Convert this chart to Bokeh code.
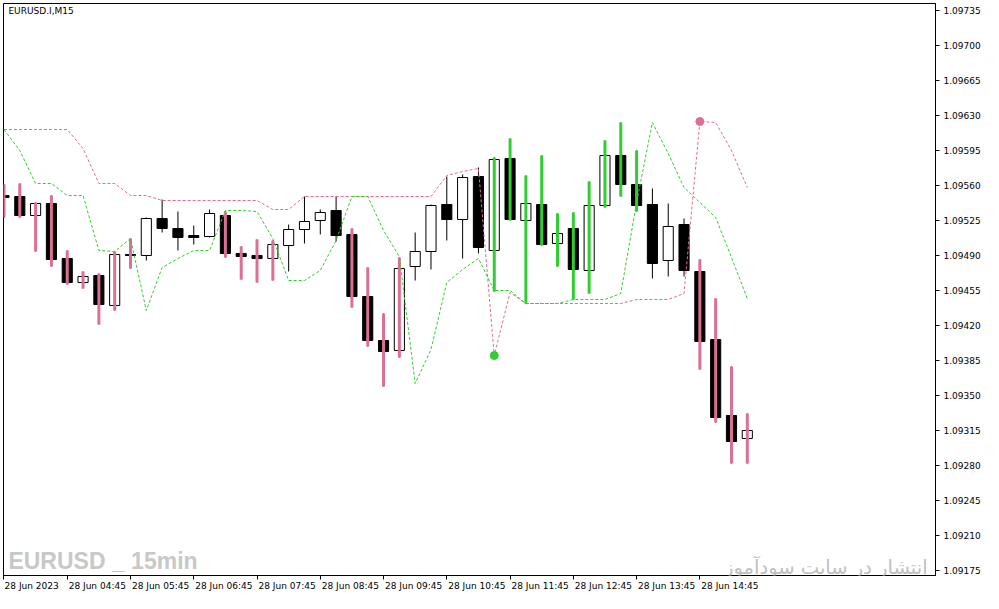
from bokeh.embed import file_html
from bokeh.models import ColumnDataSource, FixedTicker, Label, LinearAxis, PrintfTickFormatter, Range1d
from bokeh.plotting import figure
from bokeh.resources import INLINE

SYMBOL = "EURUSD.I,M15"
WATERMARK_EN = "EURUSD _ 15min"
WATERMARK_FA = "انتشار در سایت سودآموز"

# 15 minute bars, 28 Jun 2023 03:45 .. 15:30
opens = [1.09550, 1.09549, 1.09530, 1.09542, 1.09487, 1.09463, 1.09470, 1.09440,
         1.09491, 1.09490, 1.09527, 1.09517, 1.09510, 1.09509, 1.09530, 1.09492,
         1.09490, 1.09487, 1.09500, 1.09516, 1.09525, 1.09535, 1.09511, 1.09449,
         1.09405, 1.09395, 1.09479, 1.09494, 1.09541, 1.09526, 1.09569, 1.09495,
         1.09587, 1.09525, 1.09541, 1.09502, 1.09517, 1.09475, 1.09540, 1.09590,
         1.09561, 1.09541, 1.09485, 1.09521, 1.09474, 1.09406, 1.09330, 1.09307]
highs = [1.09561, 1.09562, 1.09543, 1.09550, 1.09495, 1.09474, 1.09472, 1.09494,
         1.09507, 1.09528, 1.09546, 1.09534, 1.09520, 1.09536, 1.09534, 1.09499,
         1.09506, 1.09505, 1.09521, 1.09549, 1.09536, 1.09549, 1.09517, 1.09478,
         1.09432, 1.09488, 1.09513, 1.09541, 1.09569, 1.09571, 1.09578, 1.09588,
         1.09607, 1.09570, 1.09590, 1.09532, 1.09533, 1.09564, 1.09605, 1.09623,
         1.09595, 1.09557, 1.09542, 1.09527, 1.09486, 1.09447, 1.09379, 1.09332]
lows = [1.09528, 1.09528, 1.09494, 1.09479, 1.09461, 1.09457, 1.09421, 1.09435,
        1.09477, 1.09485, 1.09513, 1.09495, 1.09501, 1.09508, 1.09488, 1.09466,
        1.09463, 1.09465, 1.09474, 1.09502, 1.09511, 1.09504, 1.09438, 1.09399,
        1.09359, 1.09388, 1.09465, 1.09476, 1.09505, 1.09487, 1.09492, 1.09454,
        1.09525, 1.09442, 1.09500, 1.09479, 1.09446, 1.09452, 1.09538, 1.09549,
        1.09534, 1.09467, 1.09469, 1.09469, 1.09376, 1.09323, 1.09282, 1.09282]
closes = [1.09548, 1.09530, 1.09542, 1.09486, 1.09463, 1.09469, 1.09441, 1.09491,
          1.09490, 1.09527, 1.09517, 1.09508, 1.09508, 1.09532, 1.09492, 1.09489,
          1.09487, 1.09501, 1.09516, 1.09524, 1.09533, 1.09510, 1.09449, 1.09405,
          1.09394, 1.09477, 1.09494, 1.09540, 1.09526, 1.09568, 1.09498, 1.09586,
          1.09526, 1.09542, 1.09501, 1.09512, 1.09476, 1.09540, 1.09590, 1.09561,
          1.09540, 1.09482, 1.09519, 1.09475, 1.09404, 1.09328, 1.09304, 1.09315]

# indicator: bar painting ("dn", "up" or "")
signal = (["dn"] * 9 + [""] * 5 + ["dn"] * 4 + [""] * 4 + ["dn"] * 4 + [""] * 5
          + ["up"] * 10 + [""] * 3 + ["dn"] * 4)

upper_line = ([1.09616] * 5 + [1.09597, 1.09562, 1.09562, 1.09550, 1.09550]
              + [1.09545] * 7 + [1.09536, 1.09536] + [1.09549] * 9
              + [1.09570, 1.09574, 1.09577, 1.09390, 1.09453] + [1.09442] * 7
              + [1.09446] * 3 + [1.09452, 1.09624, 1.09623, 1.09595, 1.09558])
lower_line = [1.09616, 1.09595, 1.09562, 1.09562, 1.09550, 1.09550, 1.09495, 1.09494,
              1.09507, 1.09435, 1.09478, 1.09487, 1.09495, 1.09495, 1.09535, 1.09535,
              1.09534, 1.09507, 1.09465, 1.09465, 1.09475, 1.09505, 1.09549, 1.09549,
              1.09515, 1.09489, 1.09362, 1.09396, 1.09463, 1.09476, 1.09487, 1.09455,
              1.09455, 1.09442, 1.09442, 1.09442, 1.09446, 1.09446, 1.09446, 1.09452,
              1.09543, 1.09623, 1.09592, 1.09558, 1.09543, 1.09528, 1.09488, 1.09447]

up_dot_bar, up_dot_price = 31, 1.09390
dn_dot_bar, dn_dot_price = 44, 1.09624

time_labels = ["28 Jun 2023", "28 Jun 04:45", "28 Jun 05:45", "28 Jun 06:45",
               "28 Jun 07:45", "28 Jun 08:45", "28 Jun 09:45", "28 Jun 10:45",
               "28 Jun 11:45", "28 Jun 12:45", "28 Jun 13:45", "28 Jun 14:45"]
price_ticks = [1.09175 + 0.00035 * k for k in range(17)]

PINK = "#DB7093"
GREEN = "#32CD32"
FONT = "DejaVu Sans"

n = len(opens)
xs = list(range(n))
bull = [c >= o for o, c in zip(opens, closes)]
candles = ColumnDataSource(dict(
    x=xs,
    high=highs,
    low=lows,
    top=[max(o, c) for o, c in zip(opens, closes)],
    bottom=[min(o, c) for o, c in zip(opens, closes)],
    fill=["white" if b else "black" for b in bull],
))
painted = [i for i in xs if signal[i]]
paint = ColumnDataSource(dict(
    x=painted,
    high=[highs[i] for i in painted],
    low=[lows[i] for i in painted],
    color=[GREEN if signal[i] == "up" else PINK for i in painted],
))

p = figure(
    width=983, height=593,
    x_range=Range1d(-0.03, 58.9), y_range=Range1d(1.09170, 1.09742),
    x_axis_location=None, y_axis_location=None,
    tools="", toolbar_location=None, output_backend="svg",
    min_border_left=3, min_border_top=3, min_border_right=0, min_border_bottom=0,
)
p.grid.visible = False
p.outline_line_color = "black"
p.outline_line_width = 1
p.background_fill_color = "white"
p.border_fill_color = "white"

p.segment(x0="x", y0="high", x1="x", y1="low", source=candles, line_color="black", line_width=1)
p.vbar(x="x", top="top", bottom="bottom", width=0.64, source=candles,
       fill_color="fill", line_color="black", line_width=1)
p.segment(x0="x", y0="high", x1="x", y1="low", source=paint, line_color="color", line_width=3)

p.line(xs, upper_line, line_color=PINK, line_width=1, line_dash="3 2")
p.line(xs, lower_line, line_color=GREEN, line_width=1, line_dash="3 2")
p.scatter([up_dot_bar], [up_dot_price], size=8, fill_color=GREEN, line_color=GREEN)
p.scatter([dn_dot_bar], [dn_dot_price], size=8, fill_color=PINK, line_color=PINK)

# price axis on the right
yaxis = LinearAxis(ticker=FixedTicker(ticks=price_ticks), formatter=PrintfTickFormatter(format="%.5f"))
yaxis.axis_line_color = "black"
yaxis.major_tick_out = 4
yaxis.major_tick_in = 0
yaxis.minor_tick_out = 0
yaxis.minor_tick_in = 0
yaxis.major_label_standoff = 4
yaxis.axis_label_standoff = 0
yaxis.major_label_text_font = FONT
yaxis.major_label_text_font_size = "9px"
yaxis.major_label_text_color = "black"
p.add_layout(yaxis, "right")

# time axis: tick marks on the hour bars (no labels), labels to the right of them
hour_bars = [4 * k for k in range(len(time_labels))]
xticks = LinearAxis(ticker=FixedTicker(ticks=hour_bars))
xticks.axis_line_color = "black"
xticks.major_tick_out = 4
xticks.major_tick_in = 0
xticks.minor_tick_out = 0
xticks.major_label_text_color = None
xticks.major_label_text_font_size = "1px"
xticks.major_label_standoff = 0
xticks.axis_label_standoff = 0
p.add_layout(xticks, "below")

label_pos = [b + (1.75 if b == 0 else 1.9) for b in hour_bars]
xlabels = LinearAxis(ticker=FixedTicker(ticks=label_pos),
                     major_label_overrides=dict(zip(label_pos, time_labels)))
xlabels.axis_line_color = None
xlabels.major_tick_out = 0
xlabels.major_tick_in = 0
xlabels.minor_tick_out = 0
xlabels.major_label_standoff = 1
xlabels.axis_label_standoff = 0
xlabels.major_label_text_font = FONT
xlabels.major_label_text_font_size = "9px"
xlabels.major_label_text_color = "black"
p.add_layout(xlabels, "below")

p.add_layout(Label(x=0.28, y=1.09740, text=SYMBOL, text_font=FONT, text_font_size="9px",
                   text_baseline="top", text_color="black"))
p.add_layout(Label(x=0.28, y=1.09185, text=WATERMARK_EN, text_font="Liberation Sans",
                   text_font_style="bold", text_font_size="23px", text_baseline="alphabetic",
                   text_color="#C8C8C8"))
p.add_layout(Label(x=58.4, y=1.09178, text=WATERMARK_FA, text_font=FONT, text_font_size="19.5px",
                   text_align="right", text_baseline="alphabetic", text_color="#C0C0C0"))

open("out.html", "w").write(file_html(p, INLINE))
